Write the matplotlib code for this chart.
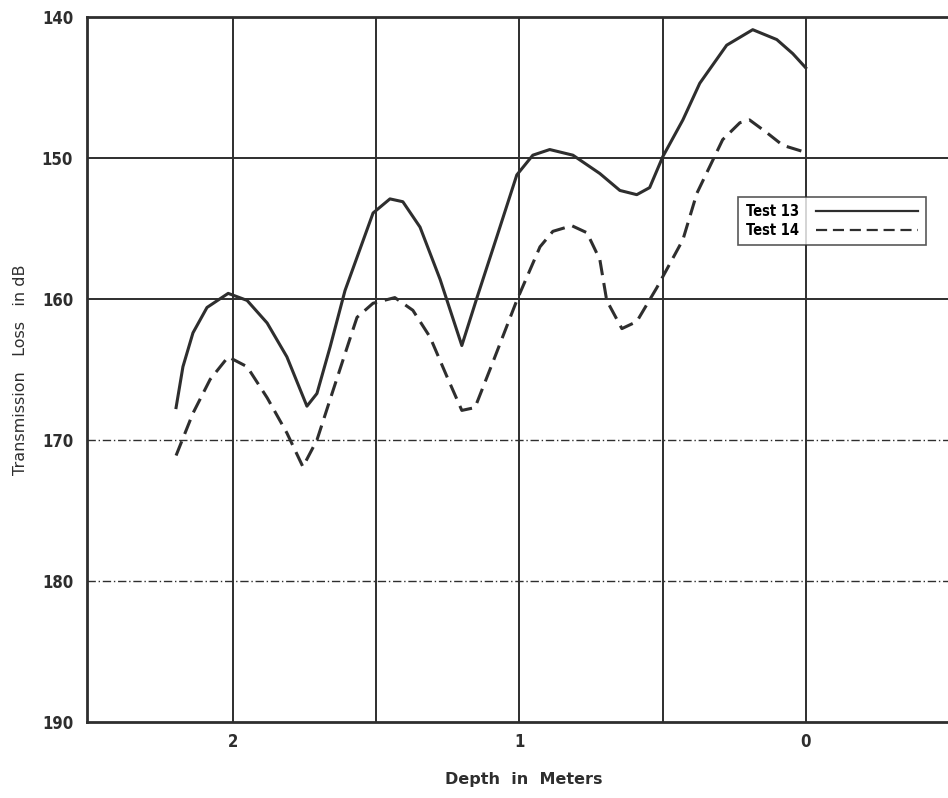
import numpy as np
import matplotlib
matplotlib.use('Agg')
import matplotlib.pyplot as plt

# values (depth in m, transmission loss in dB)
depth_13 = [2.199, 2.175, 2.140, 2.091, 2.017, 1.951, 1.881, 1.812, 1.742, 1.707,
            1.661, 1.609, 1.511, 1.452, 1.407, 1.347, 1.277, 1.201, 1.148, 1.079,
            1.009, 0.953, 0.894, 0.813, 0.719, 0.649, 0.590, 0.545, 0.499, 0.429,
            0.370, 0.276, 0.185, 0.101, 0.045, 0.0]
loss_13 = [167.7, 164.8, 162.4, 160.6, 159.6, 160.1, 161.7, 164.1, 167.6, 166.7,
           163.4, 159.4, 153.9, 152.9, 153.1, 154.9, 158.6, 163.3, 159.9, 155.6,
           151.2, 149.8, 149.4, 149.8, 151.1, 152.3, 152.6, 152.1, 149.9, 147.3,
           144.7, 142.0, 140.9, 141.6, 142.6, 143.6]

depth_14 = [2.199, 2.140, 2.080, 2.017, 1.951, 1.881, 1.812, 1.756, 1.707, 1.651,
            1.585, 1.567, 1.511, 1.435, 1.372, 1.312, 1.253, 1.201, 1.155, 1.093,
            1.009, 0.928, 0.883, 0.817, 0.764, 0.719, 0.695, 0.642, 0.590, 0.520,
            0.429, 0.380, 0.290, 0.230, 0.196, 0.136, 0.080, 0.0]
loss_14 = [171.1, 168.1, 165.7, 164.1, 164.8, 167.0, 169.5, 171.9, 170.0, 166.5,
           162.4, 161.3, 160.3, 159.9, 160.8, 162.7, 165.5, 167.9, 167.7, 164.5,
           160.1, 156.3, 155.2, 154.8, 155.3, 157.2, 160.1, 162.1, 161.6, 159.2,
           155.8, 152.5, 148.7, 147.5, 147.3, 148.2, 149.1, 149.6]

x_ticks = [2, 1, 0]
x_minor = [1.5, 0.5]
y_ticks = [140, 150, 160, 170, 180, 190]

ink = '#2e2e2e'
fam = ['DejaVu Sans']

fig = plt.figure(figsize=(9.48, 7.98), dpi=100)
ax = fig.add_axes([0.0918, 0.0952, 0.9082, 0.8835])

ax.set_xlim(2.51, -0.497)
ax.set_ylim(190, 140)

# grid: solid verticals, solid 150/160, dash-dot 170/180
for xv in x_ticks + x_minor:
    ax.axvline(xv, color=ink, lw=1.4, zorder=1)
for yv in [150, 160]:
    ax.axhline(yv, color=ink, lw=1.4, zorder=1)
for yv in [170, 180]:
    ax.axhline(yv, color=ink, lw=1.0, ls=(0, (6, 2, 1, 2)), zorder=1)

ax.plot(depth_13, loss_13, color=ink, lw=2.2, label='Test 13', zorder=3)
ax.plot(depth_14, loss_14, color=ink, lw=2.2, dashes=(5, 2.6), label='Test 14', zorder=3)

ax.set_xticks(x_ticks)
ax.set_yticks(y_ticks)
ax.tick_params(length=0, labelsize=12, colors=ink)
ax.tick_params(axis='x', pad=8)
ax.tick_params(axis='y', pad=10)
for lab in ax.get_xticklabels() + ax.get_yticklabels():
    lab.set_family(fam)
    lab.set_fontweight('bold')
    lab.set_fontstretch('condensed')

for s in ['left', 'bottom', 'top']:
    ax.spines[s].set_linewidth(2.0)
    ax.spines[s].set_color(ink)
ax.spines['right'].set_visible(False)

ax.set_xlabel('Depth  in  Meters', fontsize=11.5, family=fam, fontweight='bold',
              color=ink)
ax.set_ylabel('Transmission   Loss   in dB', fontsize=11.5, family=fam, color=ink)
ax.xaxis.set_label_coords(0.5075, -0.071)
ax.yaxis.set_label_coords(-0.069, 0.5)

leg = ax.legend(loc='upper left', bbox_to_anchor=(0.748, 0.755), markerfirst=False,
                handlelength=7.0, frameon=True, fancybox=False,
                borderpad=0.5, labelspacing=0.25, handletextpad=1.2,
                prop={'family': fam, 'weight': 'bold', 'size': 10.5,
                      'stretch': 'condensed'})
leg.get_frame().set_edgecolor(ink)
leg.get_frame().set_linewidth(1.2)
for h in leg.get_lines():
    h.set_linewidth(1.6)

fig.savefig('out.png', dpi=100)
